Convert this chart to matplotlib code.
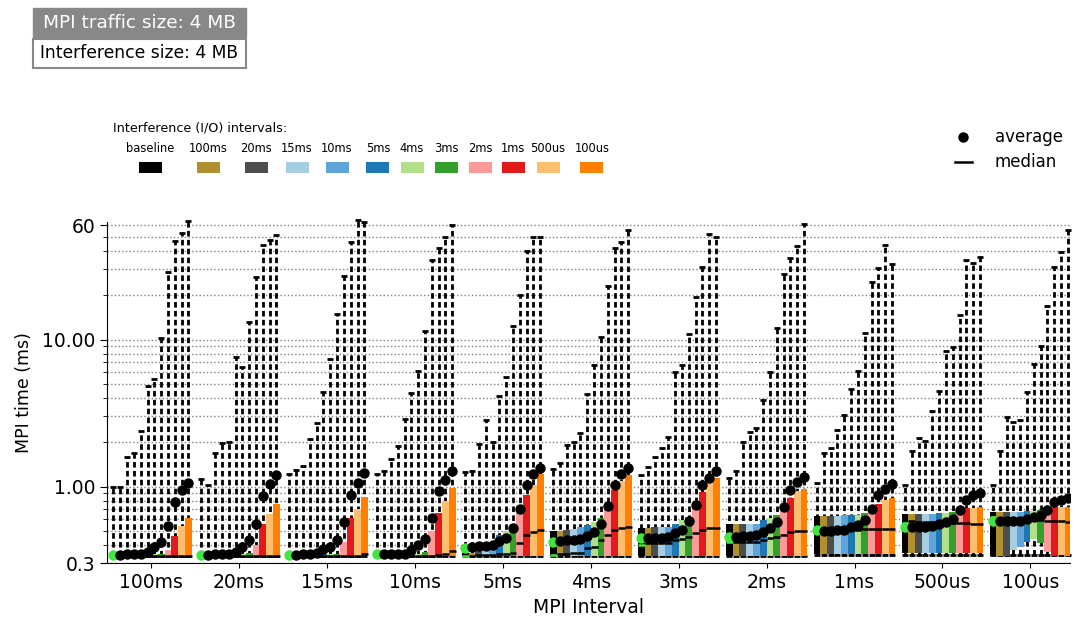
import matplotlib
matplotlib.use('Agg')
import matplotlib.pyplot as plt
from matplotlib.patches import Rectangle
from matplotlib.lines import Line2D
from matplotlib.ticker import NullFormatter, FixedLocator, LogLocator

mpi_intervals = ['100ms', '20ms', '15ms', '10ms', '5ms', '4ms', '3ms', '2ms', '1ms', '500us', '100us']
io_intervals = ['baseline', '100ms', '20ms', '15ms', '10ms', '5ms', '4ms', '3ms', '2ms', '1ms', '500us', '100us']
io_colors = ['#000000', '#b08f2e', '#4d4d4d', '#a6cee3', '#5fa4db', '#1f78b4',
             '#b2df8a', '#33a02c', '#fb9a99', '#e31a1c', '#fdbf6f', '#ff7f00']
baseline_green = '#3ee63e'

# maximum (top of whisker)
t_max = [
    [1.0, 1.0, 1.6, 1.7, 2.4, 4.8, 5.4, 10.3, 29, 47, 53, 64],
    [1.12, 1.02, 1.7, 1.99, 2.0, 7.6, 6.5, 13.2, 26.5, 44, 47.5, 51],
    [1.22, 1.3, 1.38, 2.1, 2.7, 4.4, 7.4, 14.9, 27, 46, 65, 63],
    [1.22, 1.27, 1.55, 1.9, 2.9, 4.3, 6.1, 11.5, 35, 42, 50, 60],
    [1.25, 1.28, 1.95, 2.85, 2.0, 4.1, 5.6, 12.4, 20, 40, 50, 50],
    [1.31, 1.44, 1.92, 2.02, 2.32, 4.26, 6.7, 10.4, 23.2, 41.6, 46, 56],
    [1.2, 1.35, 1.58, 1.82, 2.16, 5.98, 6.7, 10.9, 19.5, 31.2, 52, 49.5],
    [1.15, 1.27, 2.02, 2.36, 2.49, 3.87, 6.04, 12.0, 27.8, 35.6, 43.3, 60.8],
    [1.05, 1.70, 1.82, 2.42, 3.07, 4.6, 6.1, 11.1, 24.8, 30.5, 43.9, 32.4],
    [1.03, 1.74, 2.13, 2.04, 3.26, 4.48, 8.4, 8.84, 14.7, 34.6, 32.9, 36.6],
    [1.02, 1.74, 2.96, 2.76, 2.83, 4.37, 6.8, 9.1, 17.0, 30.9, 39.4, 55.6],
]
# minimum (bottom of whisker)
t_min = [[0.335] * 12 for _ in range(8)] + [[0.34] * 12 for _ in range(3)]
# average
t_mean = [
    [0.34, 0.342, 0.345, 0.347, 0.35, 0.36, 0.385, 0.42, 0.54, 0.78, 0.94, 1.06],
    [0.342, 0.343, 0.345, 0.346, 0.35, 0.36, 0.39, 0.43, 0.56, 0.86, 1.04, 1.2],
    [0.34, 0.342, 0.345, 0.348, 0.352, 0.375, 0.39, 0.435, 0.57, 0.87, 1.06, 1.23],
    [0.345, 0.345, 0.347, 0.348, 0.35, 0.37, 0.40, 0.44, 0.61, 0.93, 1.1, 1.27],
    [0.38, 0.39, 0.394, 0.396, 0.40, 0.425, 0.45, 0.52, 0.70, 1.02, 1.22, 1.34],
    [0.42, 0.425, 0.43, 0.43, 0.437, 0.46, 0.49, 0.555, 0.74, 1.03, 1.21, 1.33],
    [0.444, 0.444, 0.446, 0.448, 0.456, 0.48, 0.51, 0.58, 0.75, 1.02, 1.15, 1.27],
    [0.456, 0.456, 0.46, 0.462, 0.468, 0.49, 0.52, 0.576, 0.73, 0.95, 1.08, 1.17],
    [0.506, 0.50, 0.50, 0.505, 0.51, 0.53, 0.547, 0.59, 0.70, 0.87, 0.96, 1.04],
    [0.53, 0.53, 0.53, 0.53, 0.54, 0.553, 0.57, 0.60, 0.69, 0.81, 0.87, 0.91],
    [0.58, 0.58, 0.58, 0.58, 0.582, 0.60, 0.617, 0.64, 0.69, 0.78, 0.81, 0.84],
]
# median
t_med = [
    [0.338] * 12,
    [0.338] * 12,
    [0.338] * 11 + [0.35],
    [0.338] * 9 + [0.34, 0.35, 0.365],
    [0.338, 0.338, 0.34, 0.342, 0.342, 0.345, 0.348, 0.354, 0.41, 0.47, 0.49, 0.51],
    [0.34, 0.345, 0.35, 0.352, 0.355, 0.38, 0.39, 0.43, 0.47, 0.51, 0.52, 0.53],
    [0.40, 0.41, 0.41, 0.412, 0.415, 0.43, 0.44, 0.455, 0.48, 0.51, 0.52, 0.525],
    [0.42, 0.418, 0.42, 0.42, 0.42, 0.43, 0.445, 0.456, 0.47, 0.49, 0.495, 0.495],
    [0.50, 0.505, 0.505, 0.506, 0.507, 0.508, 0.51, 0.512, 0.515, 0.515, 0.515, 0.515],
    [0.567, 0.58, 0.578, 0.576, 0.574, 0.572, 0.57, 0.568, 0.565, 0.562, 0.558, 0.555],
    [0.62, 0.60, 0.598, 0.596, 0.594, 0.592, 0.59, 0.588, 0.585, 0.582, 0.58, 0.578],
]
# lower / upper quartile (bar bottom / top)
t_q1 = [[0.336] * 12 for _ in range(8)] + [
    [0.35] * 12,
    [0.355] * 12,
    [0.338, 0.338, 0.338, 0.37, 0.39, 0.42, 0.44, 0.41, 0.36, 0.338, 0.34, 0.338],
]
t_q3 = [
    [0.342, 0.342, 0.343, 0.343, 0.344, 0.345, 0.346, 0.35, 0.37, 0.46, 0.54, 0.61],
    [0.342, 0.342, 0.343, 0.343, 0.344, 0.345, 0.346, 0.352, 0.40, 0.56, 0.65, 0.76],
    [0.342, 0.342, 0.343, 0.343, 0.344, 0.345, 0.346, 0.35, 0.42, 0.61, 0.70, 0.85],
    [0.342, 0.342, 0.343, 0.343, 0.344, 0.345, 0.346, 0.36, 0.50, 0.66, 0.80, 0.97],
    [0.354, 0.354, 0.37, 0.41, 0.41, 0.47, 0.50, 0.56, 0.66, 0.87, 1.03, 1.21],
    [0.50, 0.50, 0.51, 0.515, 0.53, 0.55, 0.57, 0.61, 0.69, 0.94, 1.09, 1.2],
    [0.525, 0.525, 0.527, 0.53, 0.53, 0.56, 0.59, 0.62, 0.72, 0.92, 1.06, 1.14],
    [0.555, 0.555, 0.555, 0.56, 0.56, 0.59, 0.61, 0.64, 0.75, 0.84, 0.93, 0.96],
    [0.63, 0.63, 0.63, 0.63, 0.64, 0.64, 0.645, 0.66, 0.73, 0.76, 0.81, 0.84],
    [0.65, 0.65, 0.65, 0.655, 0.655, 0.66, 0.66, 0.67, 0.71, 0.71, 0.715, 0.73],
    [0.667, 0.67, 0.67, 0.67, 0.67, 0.68, 0.685, 0.695, 0.70, 0.73, 0.725, 0.73],
]

W, H = 1076, 626
fig = plt.figure(figsize=(W / 100, H / 100), dpi=100)
ax = fig.add_axes([107 / W, 1 - 563.4 / H, (1070 - 107) / W, (563.4 - 222) / H])

bw = 0.0775
for g in range(len(mpi_intervals)):
    for k in range(len(io_intervals)):
        x = g + (k - 5.5) * bw
        ax.vlines(x, t_min[g][k], t_max[g][k], colors='k', linestyles=(0, (2.0, 1.2)),
                  lw=2.0, zorder=1)
        ax.plot([x, x], [t_min[g][k], t_max[g][k]], ls='none', marker='_', ms=5, mew=2,
                color='k', zorder=1, clip_on=False)
        ax.bar(x, t_q3[g][k] - t_q1[g][k], bottom=t_q1[g][k], width=bw,
               color=io_colors[k], zorder=2)
        mc = baseline_green if k == 0 else 'k'
        ax.hlines(t_med[g][k], x - bw / 2, x + bw / 2, colors=mc, lw=1.8, zorder=3)
        ax.plot(x, t_mean[g][k], 'o', ms=6.5, color=mc, zorder=4)

ax.set_yscale('log')
ax.set_ylim(0.3, 63)
ax.set_xlim(-0.5, 10.45)
ax.yaxis.set_major_locator(FixedLocator([0.3, 1, 10, 60]))
ax.set_yticklabels(['0.3', '1.00', '10.00', '60'])
ax.yaxis.set_minor_locator(LogLocator(subs=range(2, 10)))
ax.yaxis.set_minor_formatter(NullFormatter())
ax.grid(axis='y', which='both', ls=':', color='gray', lw=1)
ax.set_axisbelow(True)
ax.set_xticks(range(len(mpi_intervals)))
ax.set_xticklabels(mpi_intervals)
ax.tick_params(labelsize=13.5)
ax.tick_params(axis='y', which='major', length=5)
ax.tick_params(axis='y', which='minor', length=3)
ax.spines['top'].set_visible(False)
ax.spines['right'].set_visible(False)
ax.set_xlabel('MPI Interval', fontsize=13.5, labelpad=4)
ax.set_ylabel('MPI time (ms)', fontsize=12.5, labelpad=6)

# boxes in the top-left corner
fig.patches.append(Rectangle((33 / W, 1 - 37 / H), 213 / W, 29 / H, transform=fig.transFigure,
                             facecolor='#888888', edgecolor='#888888'))
fig.text(139.5 / W, 1 - 22.5 / H, 'MPI traffic size: 4 MB', color='white', fontsize=13.3,
         ha='center', va='center')
fig.patches.append(Rectangle((33 / W, 1 - 68 / H), 213 / W, 29 / H, transform=fig.transFigure,
                             facecolor='white', edgecolor='#888888', lw=1.5))
fig.text(139.5 / W, 1 - 53.5 / H, 'Interference size: 4 MB', color='black', fontsize=12.3,
         ha='center', va='center')

# interference legend
fig.text(113 / W, 1 - 128 / H, 'Interference (I/O) intervals:', fontsize=9.2, va='center')
leg_x = [150, 208, 256, 297, 337, 378, 412, 446, 480, 513, 548, 592]
for k, lab in enumerate(io_intervals):
    fig.text(leg_x[k] / W, 1 - 149 / H, lab, fontsize=8.3, ha='center', va='center')
    fig.patches.append(Rectangle(((leg_x[k] - 11.5) / W, 1 - 173 / H), 23 / W, 11 / H,
                                 transform=fig.transFigure, facecolor=io_colors[k],
                                 edgecolor='none'))

# average / median legend
fig.lines.append(Line2D([963 / W], [1 - 137 / H], marker='o', ms=6.5, color='k', ls='none',
                        transform=fig.transFigure))
fig.lines.append(Line2D([955 / W, 972 / W], [1 - 162 / H, 1 - 162 / H], color='k', lw=1.8,
                        transform=fig.transFigure))
fig.text(995 / W, 1 - 137 / H, 'average', fontsize=12, va='center')
fig.text(995 / W, 1 - 162 / H, 'median', fontsize=12, va='center')

fig.savefig('out.png', dpi=100)
